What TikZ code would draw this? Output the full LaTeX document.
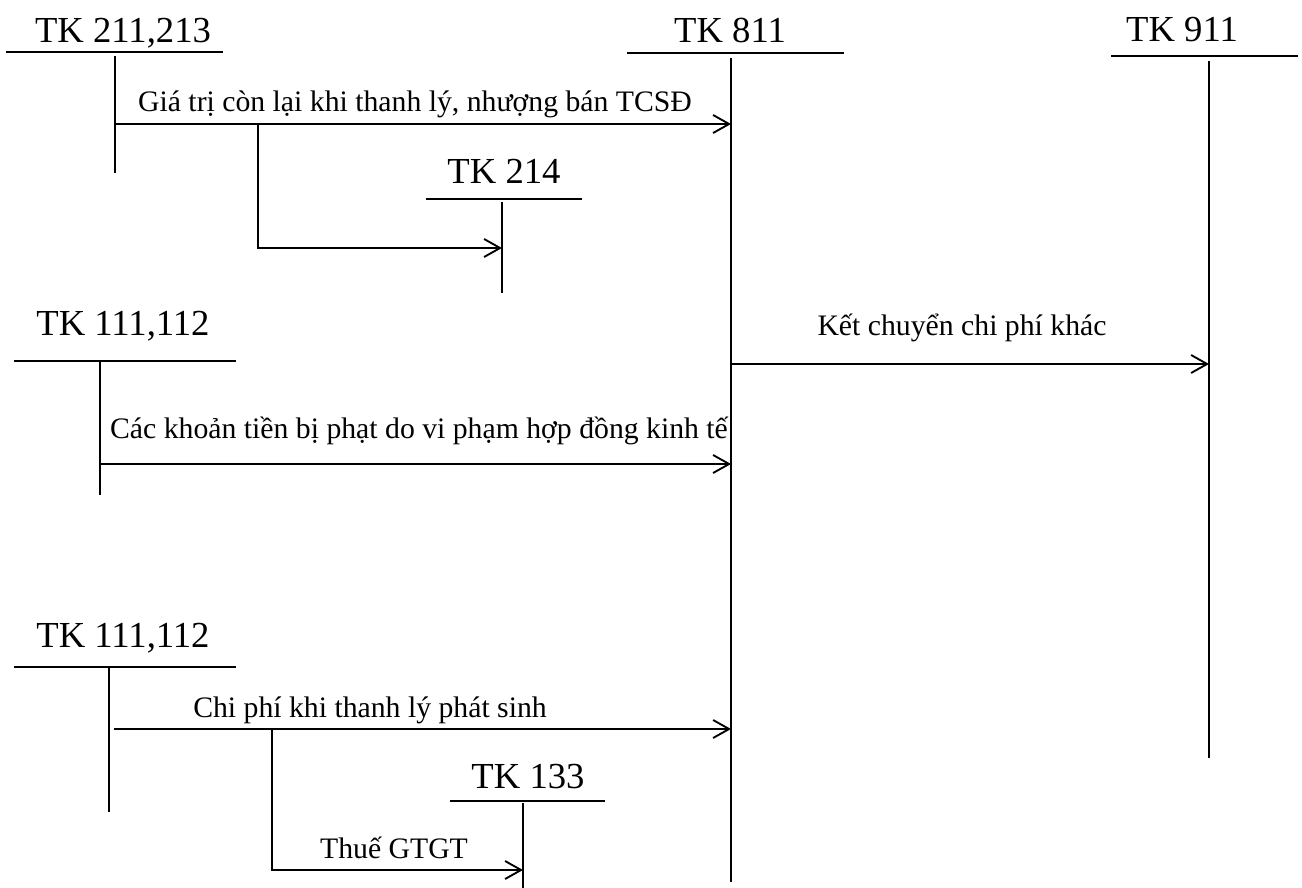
\documentclass[tikz,border=0pt]{standalone}
\usepackage{fontspec}
\setmainfont{Liberation Serif}
\usetikzlibrary{arrows.meta}

\begin{document}
\begin{tikzpicture}[
    x=0.75pt, y=-0.75pt,
    line width=1.4pt,
    acct/.style={anchor=base, inner sep=0pt, font=\fontsize{27.5}{33}\selectfont},
    note/.style={anchor=base, inner sep=0pt, font=\fontsize{22.3}{26}\selectfont},
    flow/.style={-{Straight Barb[length=12pt, width=13.5pt]}},
]
    \useasboundingbox (0,0) rectangle (1302,888);

    % Account titles
    \node[acct] (tk211)  at (123,43)  {TK 211,213};
    \node[acct] (tk811)  at (730,43)  {TK 811};
    \node[acct] (tk911)  at (1182,42) {TK 911};
    \node[acct] (tk214)  at (504,183) {TK 214};
    \node[acct] (tk111a) at (123,335) {TK 111,112};
    \node[acct] (tk111b) at (123,647) {TK 111,112};
    \node[acct] (tk133)  at (528,788) {TK 133};

    % T-shapes (underline + vertical)
    \draw (6,52) -- (223,52);      \draw (115,56) -- (115,173);
    \draw (627,53) -- (844,53);    \draw (731,58) -- (731,882);
    \draw (1111,56) -- (1298,56);  \draw (1209,61) -- (1209,758);
    \draw (426,199) -- (582,199);  \draw (502,202) -- (502,293);
    \draw (14,361) -- (236,361);   \draw (100,362) -- (100,495);
    \draw (14,667) -- (236,667);   \draw (109,667) -- (109,812);
    \draw (450,801) -- (605,801);  \draw (523,803) -- (523,888);

    % End points of the entries
    \coordinate (a211)  at (115,124);
    \coordinate (b811)  at (731,124);
    \coordinate (f211)  at (258,124);
    \coordinate (b214)  at (502,248);
    \coordinate (a811)  at (731,364);
    \coordinate (b911)  at (1209,364);
    \coordinate (a111)  at (100,464);
    \coordinate (c811)  at (731,464);
    \coordinate (c111)  at (114,729);
    \coordinate (d811)  at (731,729);
    \coordinate (f111)  at (272,729);
    \coordinate (b133)  at (523,870);

    % Entries
    \draw[flow] (a211) -- (b811);
    \draw[flow] (f211) |- (b214);
    \draw[flow] (a811) -- (b911);
    \draw[flow] (a111) -- (c811);
    \draw[flow] (c111) -- (d811);
    \draw[flow] (f111) |- (b133);

    % Entry labels
    \node[note] (l1) at (415,112) {Giá trị còn lại khi thanh lý, nhượng bán TCSĐ};
    \node[note] (l2) at (962,335) {Kết chuyển chi phí khác};
    \node[note] (l3) at (419,438) {Các khoản tiền bị phạt do vi phạm hợp đồng kinh tế};
    \node[note] (l4) at (370,717) {Chi phí khi thanh lý phát sinh};
    \node[note] (l5) at (394,858) {Thuế GTGT};
\end{tikzpicture}
\end{document}
